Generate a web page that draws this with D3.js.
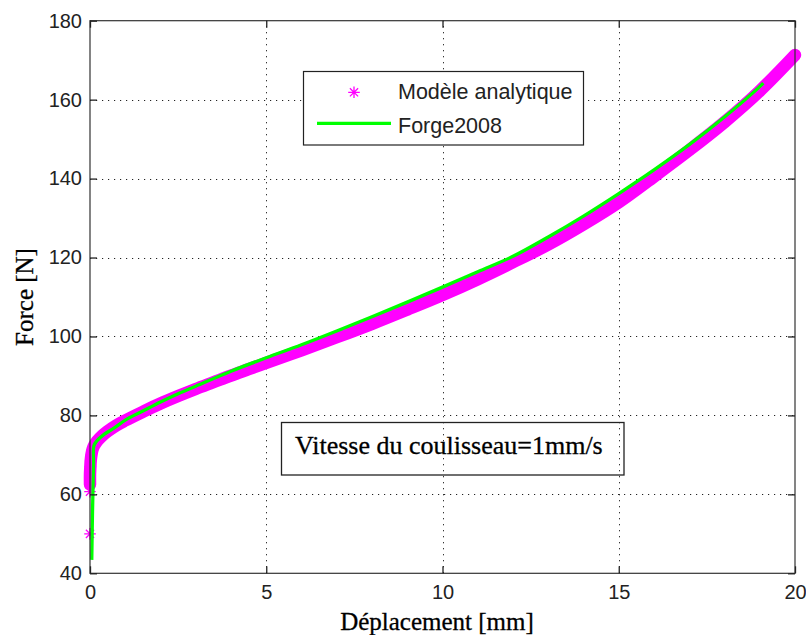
<!DOCTYPE html>
<html>
<head>
<meta charset="utf-8">
<script src="https://cdn.jsdelivr.net/npm/d3@7"></script>
<style>
  html, body { margin: 0; padding: 0; background: #fff; }
  svg { display: block; }
</style>
</head>
<body>
<script>
// ---- data ----
const xTicks = [0, 5, 10, 15, 20];
const yTicks = [40, 60, 80, 100, 120, 140, 160, 180];

// "Modèle analytique" (magenta asterisks)
const anaX = [0, 0, 0, 0, 0.01, 0.02, 0.04, 0.07, 0.12, 0.2, 0.35, 0.5, 0.75, 1, 1.5, 2, 2.5, 3, 3.5, 4, 4.5, 5, 6, 7, 8, 9, 10, 11, 12, 13, 14, 15, 16, 17, 18, 19, 20];
const anaF = [50, 60.7, 62.5, 65, 67, 68.5, 70, 71.3, 72.4, 73.5, 74.9, 76.0, 77.5, 78.7, 80.9, 83.0, 84.9, 86.7, 88.4, 90.1, 91.7, 93.3, 96.5, 99.8, 103.2, 106.8, 110.5, 114.5, 118.8, 123.3, 128.4, 134.0, 140.5, 147.2, 154.3, 162.2, 171.3];

// "Forge2008" (green line)
const forX = [0.05, 0.07, 0.09, 0.1, 0.11, 0.2, 0.4, 0.7, 1, 1.5, 2, 2.5, 3, 4, 5, 6, 7, 8, 9, 10, 11, 12, 13, 14, 15, 16, 17, 18, 19, 19.1];
const forF = [43.4, 55, 63.6, 68, 72.3, 73.6, 75.2, 76.9, 78.8, 81.1, 83.4, 85.5, 87.4, 91.2, 94.6, 97.9, 101.4, 105.0, 108.7, 112.5, 116.4, 120.3, 125.2, 130.5, 136.2, 142.2, 148.6, 155.6, 163.3, 164.2];

const legendLabels = ["Modèle analytique", "Forge2008"];
const annotationText = "Vitesse du coulisseau=1mm/s";
const xLabel = "Déplacement [mm]";
const yLabel = "Force [N]";

// ---- layout ----
const W = 806, H = 635;
const L = 90, R = 795, T = 20.7, B = 573.3;
const sans = "'Liberation Sans', Arial, sans-serif";
const serif = "'Liberation Serif', 'Times New Roman', serif";

const svg = d3.select("body").append("svg").attr("width", W).attr("height", H);
svg.append("rect").attr("width", W).attr("height", H).attr("fill", "#fff");

const x = d3.scaleLinear().domain([0, 20]).range([L, R]);
const y = d3.scaleLinear().domain([40, 180]).range([B, T]);

// grid
const grid = svg.append("g").attr("stroke", "#222").attr("stroke-width", 1).attr("stroke-dasharray", "1.2,4.8");
grid.selectAll(".gx").data(xTicks.slice(1, -1)).join("line")
  .attr("x1", d => Math.round(x(d)) + 0.5).attr("x2", d => Math.round(x(d)) + 0.5)
  .attr("y1", B).attr("y2", T);
grid.selectAll(".gy").data(yTicks.slice(1, -1)).join("line")
  .attr("y1", d => Math.round(y(d)) + 0.5).attr("y2", d => Math.round(y(d)) + 0.5)
  .attr("x1", L).attr("x2", R);

// analytic model: dense asterisks form a thick band
const ana = anaX.map((v, i) => ({ x: v, f: anaF[i] }));
const bandPts = ana.filter(d => d.f >= 62);
svg.append("path").datum(bandPts)
  .attr("d", d3.line().x(d => x(d.x)).y(d => y(d.f)).curve(d3.curveCatmullRom.alpha(0.5)))
  .attr("fill", "none").attr("stroke", "#ff00ff").attr("stroke-width", 12.5)
  .attr("stroke-linejoin", "round").attr("stroke-linecap", "round");

function star(cx, cy, r) {
  const a = r * 0.7071;
  return `M${cx - r},${cy}L${cx + r},${cy}M${cx},${cy - r}L${cx},${cy + r}` +
         `M${cx - a},${cy - a}L${cx + a},${cy + a}M${cx - a},${cy + a}L${cx + a},${cy - a}`;
}
svg.append("g").selectAll("path").data(ana).join("path")
  .attr("d", d => star(x(d.x), y(d.f), 5.8))
  .attr("stroke", "#ff00ff").attr("stroke-width", 1.3).attr("fill", "none");

// Forge2008 line
const forg = forX.map((v, i) => ({ x: v, f: forF[i] }));
svg.append("path").datum(forg)
  .attr("d", d3.line().x(d => x(d.x)).y(d => y(d.f)).curve(d3.curveCatmullRom.alpha(0.5)))
  .attr("fill", "none").attr("stroke", "#00ff00").attr("stroke-width", 3.3)
  .attr("stroke-linejoin", "round");

// axes box
svg.append("rect").attr("x", L).attr("y", T).attr("width", R - L).attr("height", B - T)
  .attr("fill", "none").attr("stroke", "#333").attr("stroke-width", 1.2);

function styleAxis(g) {
  g.select(".domain").remove();
  g.selectAll(".tick line").attr("stroke", "#222").attr("stroke-width", 1.3);
  g.selectAll(".tick text").attr("fill", "#222").style("font-family", sans).style("font-size", "20px");
}
svg.append("g").attr("transform", `translate(0,${B})`)
  .call(d3.axisBottom(x).tickValues(xTicks).tickSize(-7).tickPadding(11.5).tickFormat(d3.format("d")))
  .call(styleAxis);
svg.append("g").attr("transform", `translate(0,${T})`)
  .call(d3.axisTop(x).tickValues(xTicks).tickSize(-7).tickFormat(""))
  .call(styleAxis);
svg.append("g").attr("transform", `translate(${L},0)`)
  .call(d3.axisLeft(y).tickValues(yTicks).tickSize(-7).tickPadding(8).tickFormat(d3.format("d")))
  .call(styleAxis);
svg.append("g").attr("transform", `translate(${R},0)`)
  .call(d3.axisRight(y).tickValues(yTicks).tickSize(-7).tickFormat(""))
  .call(styleAxis);

// axis labels
svg.append("text").attr("x", 437).attr("y", 630).attr("text-anchor", "middle")
  .style("font-family", serif).style("font-size", "25px").attr("fill", "#000")
  .attr("stroke", "#000").attr("stroke-width", 0.3).text(xLabel);
svg.append("text").attr("transform", `translate(33,${(T + B) / 2}) rotate(-90)`).attr("text-anchor", "middle")
  .style("font-family", serif).style("font-size", "25px").attr("fill", "#000")
  .attr("stroke", "#000").attr("stroke-width", 0.3).text(yLabel);

// legend
const lg = svg.append("g");
lg.append("rect").attr("x", 303.5).attr("y", 71.5).attr("width", 280).attr("height", 73.5)
  .attr("fill", "#fff").attr("stroke", "#222").attr("stroke-width", 1.2);
lg.append("path").attr("d", star(354, 92.3, 5.8)).attr("stroke", "#ff00ff").attr("stroke-width", 1.3);
lg.append("line").attr("x1", 317).attr("x2", 391).attr("y1", 123.3).attr("y2", 123.3)
  .attr("stroke", "#00ff00").attr("stroke-width", 3.3);
lg.selectAll("text").data(legendLabels).join("text")
  .attr("x", 398).attr("y", (d, i) => 98.5 + i * 34)
  .style("font-family", sans).style("font-size", "21.5px").attr("fill", "#222").text(d => d);

// annotation box
svg.append("rect").attr("x", 281.5).attr("y", 422.5).attr("width", 342.5).attr("height", 52.5)
  .attr("fill", "none").attr("stroke", "#222").attr("stroke-width", 1.3);
svg.append("text").attr("x", 295).attr("y", 453.5)
  .style("font-family", serif).style("font-size", "26px").attr("fill", "#000")
  .attr("stroke", "#000").attr("stroke-width", 0.3).text(annotationText);
</script>
</body>
</html>
